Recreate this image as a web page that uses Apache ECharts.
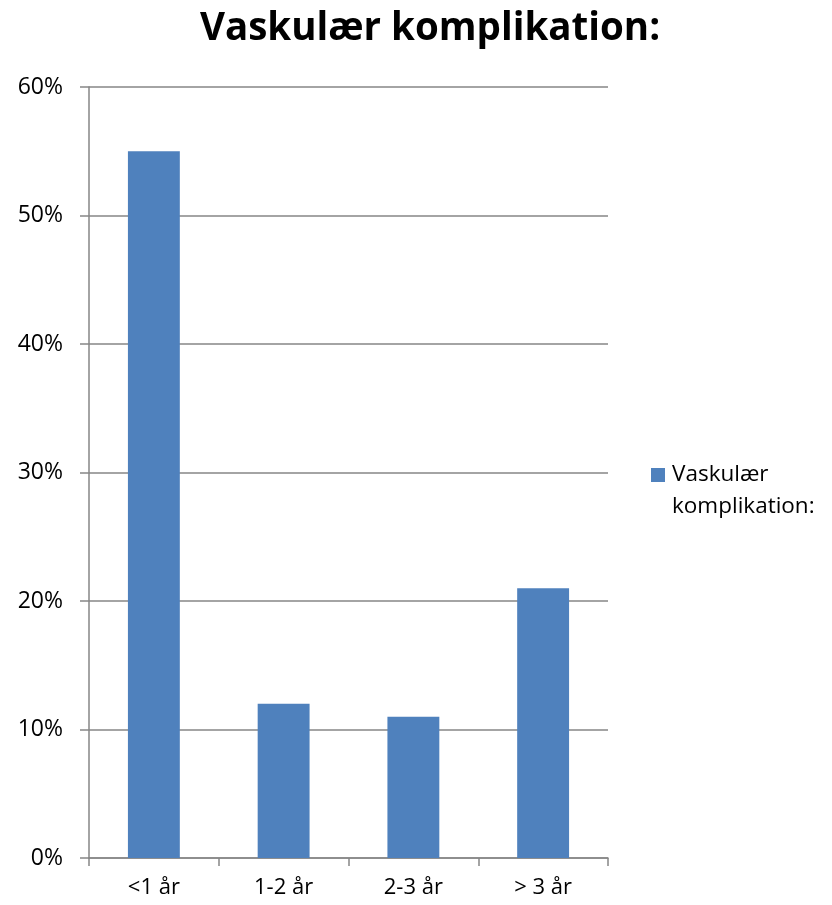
<!DOCTYPE html>
<html>
<head>
<meta charset="utf-8">
<script src="https://cdn.jsdelivr.net/npm/echarts@6/dist/echarts.min.js"></script>
<style>
  html, body { margin: 0; padding: 0; background: #fff; }
  #chart { width: 832px; height: 905px; }
</style>
</head>
<body>
<div id="chart"></div>
<script>
// Age groups and share of vascular complications (%)
const categories = ['<1 år', '1-2 år', '2-3 år', '> 3 år'];
const values = [55, 12, 11, 21];
const seriesName = 'Vaskulær komplikation:';
const titleText = 'Vaskulær komplikation:';

const fontFamily = '"Open Sans", sans-serif';
const chart = echarts.init(document.getElementById('chart'));

chart.setOption({
  animation: false,
  backgroundColor: '#ffffff',
  title: {
    text: titleText,
    left: 425,
    textAlign: 'center',
    top: 5,
    textStyle: { fontFamily: fontFamily, fontWeight: 'bold', fontSize: 38.5, color: '#000' }
  },
  legend: {
    data: [seriesName],
    orient: 'vertical',
    left: 651,
    top: 427,
    padding: 0,
    itemWidth: 14,
    itemHeight: 14,
    icon: 'rect',
    // leading blank line keeps the swatch level with the first text line
    formatter: function () { return '\nVaskulær\nkomplikation:'; },
    textStyle: { fontFamily: fontFamily, fontSize: 22.5, color: '#000', lineHeight: 32, padding: [0, 0, 0, 2] }
  },
  grid: { left: 89, right: 224, top: 87, bottom: 47, containLabel: false },
  xAxis: {
    type: 'category',
    data: categories,
    axisLine: { lineStyle: { color: '#868686', width: 1.5 } },
    axisTick: { show: true, length: 8, alignWithLabel: false, lineStyle: { color: '#868686', width: 1.5 } },
    axisLabel: { color: '#000', fontSize: 22, fontFamily: fontFamily, margin: 19 }
  },
  yAxis: {
    type: 'value',
    min: 0,
    max: 60,
    interval: 10,
    axisLine: { show: true, lineStyle: { color: '#868686', width: 1.5 } },
    axisTick: { show: true, length: 9, lineStyle: { color: '#868686', width: 1.5 } },
    axisLabel: { color: '#000', fontSize: 23, fontFamily: fontFamily, margin: 26, formatter: '{value}%' },
    splitLine: { lineStyle: { color: '#868686', width: 1.5 } }
  },
  series: [{
    name: seriesName,
    type: 'bar',
    data: values,
    barWidth: '40%',
    itemStyle: { color: '#4F81BD' }
  }]
});
</script>
</body>
</html>
